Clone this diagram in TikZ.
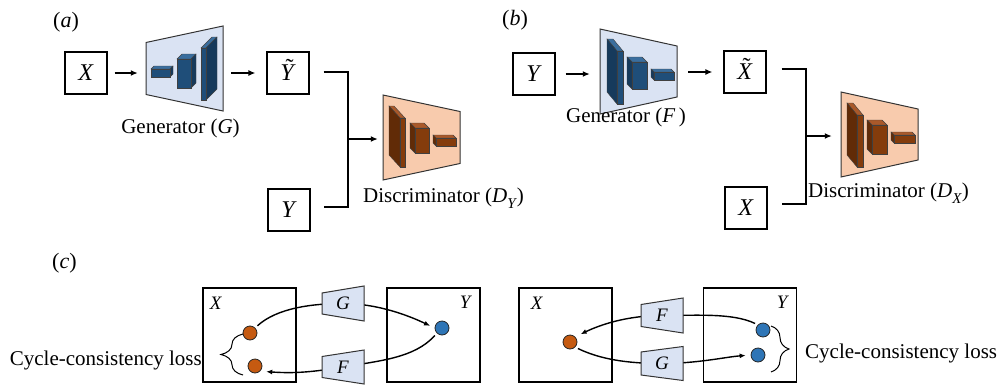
\documentclass[tikz,border=0pt]{standalone}
\usepackage{fontspec}
\setmainfont{Liberation Serif}
\usetikzlibrary{arrows.meta,decorations.pathreplacing,calc}
\pgfdeclarelayer{back}
\pgfsetlayers{back,main}

\definecolor{genfill}{HTML}{DAE3F3}
\definecolor{disfill}{HTML}{F8CBAD}
\definecolor{bfront}{HTML}{1F4E79}
\definecolor{bside}{HTML}{163A5C}
\definecolor{btop}{HTML}{3A6E9E}
\definecolor{ofront}{HTML}{843C0C}
\definecolor{oside}{HTML}{612B07}
\definecolor{otop}{HTML}{A9592A}
\definecolor{odot}{HTML}{C55A11}
\definecolor{bdot}{HTML}{2E75B6}

% trapezoid: centre x, centre y, half width, half height left, half height right, style
\newcommand\trapz[6]{\path[#6] (#1-#3,#2-#4) -- (#1+#3,#2-#5) -- (#1+#3,#2+#5) -- (#1-#3,#2+#4) -- cycle;}
% cuboid seen from the right: x y w h dx dy front side top
\newcommand\cubR[9]{%
  \filldraw[fill=#9,cubeline] (#1,#2) -- ++(#5,#6) -- ++(#3,0) -- ++({-(#5)},{-(#6)}) -- cycle;
  \filldraw[fill=#8,cubeline] (#1+#3,#2) -- ++(#5,#6) -- ++(0,#4) -- ++({-(#5)},{-(#6)}) -- cycle;
  \filldraw[fill=#7,cubeline] (#1,#2) rectangle ++(#3,#4);}
% cuboid seen from the left
\newcommand\cubL[9]{%
  \filldraw[fill=#9,cubeline] (#1,#2) -- ++(#5,#6) -- ++(#3,0) -- ++({-(#5)},{-(#6)}) -- cycle;
  \filldraw[fill=#8,cubeline] (#1,#2) -- ++(#5,#6) -- ++(0,#4) -- ++({-(#5)},{-(#6)}) -- cycle;
  \filldraw[fill=#7,cubeline] (#1,#2) rectangle ++(#3,#4);}
\newcommand\tldacc[1]{\ooalign{\textit{#1}\cr\hidewidth\kern0.14em\raisebox{0.22em}{\char"02DC}\hidewidth\cr}}
\newcommand\dsub[2]{\textit{#1}\raisebox{-0.3em}{\fontsize{15}{15}\selectfont\textit{#2}}}

\begin{document}
\begin{tikzpicture}[x=1pt,y=-1pt,
  lbl/.style={font=\fontsize{21}{25}\selectfont, inner sep=0pt},
  plbl/.style={font=\fontsize{22}{26}\selectfont, inner sep=0pt},
  vbox/.style={draw, line width=1.1pt, minimum size=42pt, inner sep=0pt, font=\fontsize{24}{28}\selectfont},
  dombox/.style={draw, line width=1.4pt, minimum width=93pt, minimum height=94pt, inner sep=0pt},
  slot/.style={minimum width=77pt, minimum height=85pt, inner sep=0pt},
  cslot/.style={minimum width=42pt, minimum height=30pt, inner sep=0pt, font=\fontsize{19}{22}\selectfont},
  clbl/.style={inner sep=0pt, font=\fontsize{19}{22}\selectfont},
  gen/.style={fill=genfill, draw=black!80, line width=1pt},
  dis/.style={fill=disfill, draw=black!80, line width=1pt},
  cubeline/.style={draw=black!75, line width=0.4pt},
  link/.style={line width=1.4pt},
  arr/.style={line width=1.4pt, -{Latex[length=7pt,width=6pt]}},
  curve/.style={line width=1.4pt, -{Latex[length=6pt,width=5pt]}},
  odotst/.style={circle, fill=odot, draw=black!85, line width=0.8pt, minimum size=14pt, inner sep=0pt},
  bdotst/.style={circle, fill=bdot, draw=black!85, line width=0.8pt, minimum size=14pt, inner sep=0pt},
  brc/.style={decorate, line width=1pt},
]
\useasboundingbox (0,0) rectangle (1004,386);

% ---------------- (a) ----------------
\node[plbl, anchor=base west] (pa) at (53,27) {(\textit{a})};
\node[vbox] (xa) at (86,73) {\textit{X}};
\node[vbox] (ytA) at (288,73) {\tldacc{Y}};
\node[vbox] (yA) at (289,210) {\textit{Y}};

\trapz{184.5}{68.5}{38.5}{26}{42.5}{gen}
\cubR{151}{69}{19}{8}{3}{-3}{bfront}{bside}{btop}
\cubR{177}{59}{14}{29}{5}{-5}{bfront}{bside}{btop}
\cubR{201}{48}{5}{52}{11}{-11}{bfront}{bside}{btop}
\node[slot] (gA) at (184.5,68.5) {};
\node[lbl, anchor=base] (gAl) at (180.5,133) {Generator (\textit{G})};

\trapz{421.5}{137.5}{38.5}{42.5}{26}{dis}
\cubL{400}{118}{5}{49}{-11}{-12}{ofront}{oside}{otop}
\cubL{415}{128}{14}{25}{-5}{-5}{ofront}{oside}{otop}
\cubL{436}{138}{20}{8}{-3}{-3}{ofront}{oside}{otop}
\node[slot] (dA) at (421.5,137.5) {};
\node[lbl, anchor=base west] (dAl) at (363,202) {Discriminator (\dsub{D}{Y})};

\draw[arr, shorten <=7pt, shorten >=8pt] (xa.east) -- (xa.east -| gA.west);
\draw[arr, shorten <=8pt, shorten >=11pt] (gA.east |- ytA.west) -- (ytA.west);
\coordinate (ja1) at ($(ytA.east)+(14,-1)$);
\coordinate (jA) at (348,139);
\coordinate (ja2) at ($(yA.east)+(13,-3)$);
\draw[link] (ja1) -| (jA) |- (ja2);
\draw[arr, shorten >=5pt] (jA) -- (jA -| dA.west);

% ---------------- (b) ----------------
\node[plbl, anchor=base west] (pb) at (502,25) {(\textit{b})};
\node[vbox] (yB) at (534,74) {\textit{Y}};
\node[vbox] (xtB) at (745,72) {\tldacc{X}};
\node[vbox] (xB) at (746,208) {\textit{X}};

\trapz{638.5}{71.5}{38.5}{42.5}{25.5}{gen}
\cubL{617}{51}{6}{53}{-10}{-12}{bfront}{bside}{btop}
\cubL{632}{62}{15}{27}{-5}{-5}{bfront}{bside}{btop}
\cubL{654}{72}{20}{8}{-3}{-3}{bfront}{bside}{btop}
\node[slot] (fB) at (638.5,71.5) {};
\node[lbl, anchor=base] (fBl) at (626,122) {Generator (\textit{F}\,)};

\trapz{879.5}{134.5}{38.5}{42.5}{25.5}{dis}
\cubL{857}{115}{6}{52}{-10}{-12}{ofront}{oside}{otop}
\cubL{872}{125}{15}{29}{-5}{-5}{ofront}{oside}{otop}
\cubL{894}{135}{21}{8}{-3}{-3}{ofront}{oside}{otop}
\node[slot] (dB) at (879.5,134.5) {};
\node[lbl, anchor=base west] (dBl) at (808,197) {Discriminator (\dsub{D}{X})};

\draw[arr, shorten <=10pt, shorten >=10pt] (yB.east) -- (yB.east -| fB.west);
\draw[arr, shorten <=11pt, shorten >=11pt] (fB.east |- xtB.west) -- (xtB.west);
\coordinate (jb1) at ($(xtB.east)+(15,-3)$);
\coordinate (jB) at (806,136);
\coordinate (jb2) at ($(xB.east)+(14,-4)$);
\draw[link] (jb1) -| (jB) |- (jb2);
\draw[arr, shorten >=9pt] (jB) -- (jB -| dB.west);

% ---------------- (c) ----------------
\node[plbl, anchor=base west] (pc) at (52,268) {(\textit{c})};

% X -> Y -> X
\node[dombox] (sx1) at (249.5,335) {};
\node[dombox] (sy1) at (433.5,335) {};
\node[clbl] (lx1) at (216,303) {\textit{X}};
\node[clbl] (ly1) at (466,302) {\textit{Y}};
\node[odotst] (o1) at (250,333) {};
\node[odotst] (o2) at (255,366) {};
\node[bdotst] (b1) at (442,328) {};
\trapz{343}{303.5}{21}{10.5}{17.5}{gen}
\node[cslot] (G1) at (343,303.5) {\textit{G}};
\trapz{343}{367}{21}{10.5}{17}{gen}
\node[cslot] (F1) at (343,367) {\textit{F}};
\begin{pgfonlayer}{back}
\draw[curve, shorten <=3pt, shorten >=5pt] (o1.north east) .. controls +(22,-20) and +(-30,0) .. (G1.center)
      .. controls +(35,0) and +(-25,-12) .. (b1.west);
\draw[curve, shorten <=3pt, shorten >=6pt] (b1.south west) .. controls +(-22,25) and +(35,-6) .. (F1.center)
      .. controls +(-35,6) and +(30,2) .. (o2.south east);
\end{pgfonlayer}
\draw[brc, decoration={brace, amplitude=22pt}] (243,375) -- (243,334);
\node[lbl, anchor=base east] (cl1) at (202,365) {Cycle-consistency loss};

% Y -> X -> Y
\node[dombox] (sx2) at (565.5,335) {};
\node[dombox] (sy2) at (750,335) {};
\node[clbl] (lx2) at (537,303) {\textit{X}};
\node[clbl] (ly2) at (783,302) {\textit{Y}};
\node[odotst] (o3) at (570,342) {};
\node[bdotst] (b2) at (763,330) {};
\node[bdotst] (b3) at (758,355) {};
\trapz{662}{315.5}{21}{11}{17.5}{gen}
\node[cslot] (F2) at (662,315.5) {\textit{F}};
\trapz{662}{363.5}{21}{11.5}{17}{gen}
\node[cslot] (G2) at (662,363.5) {\textit{G}};
\begin{pgfonlayer}{back}
\draw[curve, shorten <=3pt, shorten >=6pt] (b2.north west) .. controls +(-25,-12) and +(35,0) .. (F2.center)
      .. controls +(-35,0) and +(25,-12) .. (o3.north east);
\draw[curve, shorten <=3pt, shorten >=5pt] (o3.south east) .. controls +(25,12) and +(-35,0) .. (G2.center)
      .. controls +(35,0) and +(-25,2) .. (b3.west);
\end{pgfonlayer}
\draw[brc, decoration={brace, amplitude=18pt}] (771,326) -- (771,372);
\node[lbl, anchor=base west] (cl2) at (805,358) {Cycle-consistency loss};
\end{tikzpicture}
\end{document}
